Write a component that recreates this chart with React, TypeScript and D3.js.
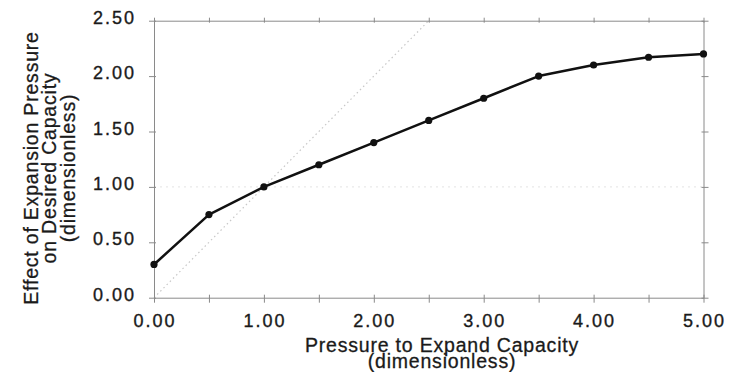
import React, { useEffect, useRef } from "react";
import * as d3 from "d3";

const pressureX = [0, 0.5, 1.0, 1.5, 2.0, 2.5, 3.0, 3.5, 4.0, 4.5, 5.0];
const effectY = [0.3, 0.75, 1.0, 1.2, 1.4, 1.6, 1.8, 2.0, 2.1, 2.17, 2.2];
const xTicks = [0, 0.5, 1, 1.5, 2, 2.5, 3, 3.5, 4, 4.5, 5];
const xLabelTicks = [0, 1, 2, 3, 4, 5];
const yTicks = [0, 0.5, 1, 1.5, 2, 2.5];
const refDiagonal = [0, 2.5];
const refHorizontal = 1.0;
const xTitle = ["Pressure to Expand Capacity", "(dimensionless)"];
const yTitle = ["Effect of Expansion Pressure", "on Desired Capacity", "(dimensionless)"];

const W = 738;
const H = 372;
const FONT = "'Liberation Sans', Arial, Helvetica, sans-serif";

export default function App() {
  const ref = useRef<SVGSVGElement>(null);

  useEffect(() => {
    const svg = d3.select(ref.current);
    svg.selectAll("*").remove();

    const x = d3.scaleLinear().domain([0, 5]).range([154, 703.5]);
    const y = d3.scaleLinear().domain([0, 2.5]).range([297.7, 20.7]);
    const frame = "#8a8a8a";
    const ink = "#1a1a1a";

    // reference lines
    svg
      .append("line")
      .attr("x1", x(refDiagonal[0]))
      .attr("y1", y(refDiagonal[0]))
      .attr("x2", x(refDiagonal[1]))
      .attr("y2", y(refDiagonal[1]))
      .attr("stroke", "#c8c8c8")
      .attr("stroke-width", 1.2)
      .attr("stroke-dasharray", "1.5,3");
    svg
      .append("line")
      .attr("x1", x(0))
      .attr("x2", x(5))
      .attr("y1", y(refHorizontal))
      .attr("y2", y(refHorizontal))
      .attr("stroke", "#e4e4e4")
      .attr("stroke-width", 1)
      .attr("stroke-dasharray", "2,4");

    // axes (frame)
    const fmt = d3.format(".2f");
    const bottom = svg
      .append("g")
      .attr("transform", `translate(0,${y(0)})`)
      .call(d3.axisBottom(x).tickValues(xTicks).tickSize(5).tickSizeOuter(0).tickFormat(() => ""));
    const top = svg
      .append("g")
      .attr("transform", `translate(0,${y(2.5)})`)
      .call(d3.axisTop(x).tickValues(xTicks).tickSize(3).tickSizeOuter(0).tickFormat(() => ""));
    const left = svg
      .append("g")
      .attr("transform", `translate(${x(0)},0)`)
      .call(d3.axisLeft(y).tickValues(yTicks).tickSize(5).tickSizeOuter(0).tickFormat(() => ""));
    const right = svg
      .append("g")
      .attr("transform", `translate(${x(5)},0)`)
      .call(d3.axisRight(y).tickValues(yTicks).tickSize(5).tickSizeOuter(0).tickFormat(() => ""));
    [bottom, top, left, right].forEach((g) => {
      g.selectAll("path").attr("stroke", frame).attr("stroke-width", 1);
      g.selectAll("line").attr("stroke", frame).attr("stroke-width", 1);
    });
    bottom.selectAll(".tick line").attr("y1", -3);
    top.selectAll(".tick line").attr("y1", 2);
    left.selectAll(".tick line").attr("x1", 2);
    right.selectAll(".tick line").attr("x1", -2);

    // tick labels
    svg
      .append("g")
      .selectAll("text")
      .data(xLabelTicks)
      .join("text")
      .attr("x", (d) => x(d) + 1)
      .attr("y", 327)
      .attr("text-anchor", "middle")
      .attr("font-family", FONT)
      .attr("font-size", 18)
      .attr("letter-spacing", 2)
      .attr("fill", ink)
      .attr("stroke", ink)
      .attr("stroke-width", 0.35)
      .text((d) => fmt(d));
    svg
      .append("g")
      .selectAll("text")
      .data(yTicks)
      .join("text")
      .attr("x", 136)
      .attr("y", (d) => y(d) + 3)
      .attr("text-anchor", "end")
      .attr("font-family", FONT)
      .attr("font-size", 18)
      .attr("letter-spacing", 2)
      .attr("fill", ink)
      .attr("stroke", ink)
      .attr("stroke-width", 0.35)
      .text((d) => fmt(d));

    // data line
    const pts = pressureX.map((px, i) => [px, effectY[i]] as [number, number]);
    svg
      .append("path")
      .datum(pts)
      .attr("fill", "none")
      .attr("stroke", "#111")
      .attr("stroke-width", 2.5)
      .attr("stroke-linejoin", "round")
      .attr("d", d3.line<[number, number]>().x((d) => x(d[0])).y((d) => y(d[1])));
    svg
      .append("g")
      .selectAll("circle")
      .data(pts)
      .join("circle")
      .attr("cx", (d) => x(d[0]))
      .attr("cy", (d) => y(d[1]))
      .attr("r", 3.6)
      .attr("fill", "#111");

    // axis titles
    svg
      .append("g")
      .selectAll("text")
      .data(xTitle)
      .join("text")
      .attr("x", 442)
      .attr("y", (_, i) => 352 + i * 15.5)
      .attr("text-anchor", "middle")
      .attr("font-family", FONT)
      .attr("font-size", 19.5)
      .attr("letter-spacing", 0.8)
      .attr("fill", ink)
      .attr("stroke", ink)
      .attr("stroke-width", 0.3)
      .text((d) => d);
    svg
      .append("g")
      .selectAll("text")
      .data(yTitle)
      .join("text")
      .attr("transform", (_, i) => `translate(${37.5 + i * 18.8},168) rotate(-90)`)
      .attr("text-anchor", "middle")
      .attr("font-family", FONT)
      .attr("font-size", 19.5)
      .attr("letter-spacing", 0.8)
      .attr("fill", ink)
      .attr("stroke", ink)
      .attr("stroke-width", 0.3)
      .text((d) => d);
  }, []);

  return (
    <svg
      ref={ref}
      width={W}
      height={H}
      style={{ position: "absolute", left: 0, top: 0, background: "#fff" }}
    />
  );
}
